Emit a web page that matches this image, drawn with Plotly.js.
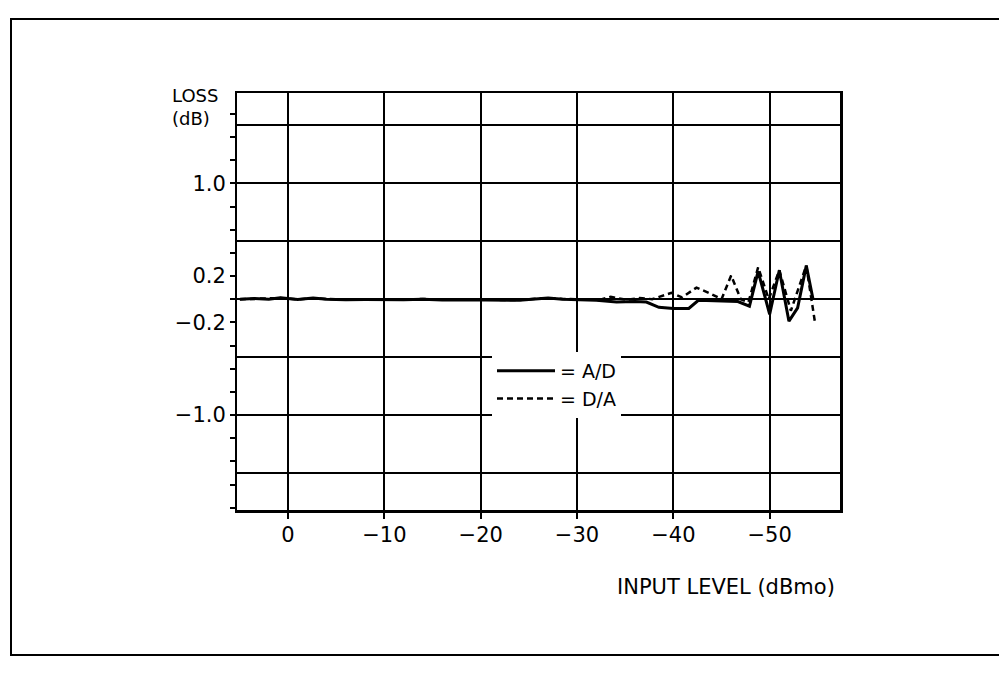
<!DOCTYPE html>
<html>
<head>
<meta charset="utf-8">
<script src="https://cdn.plot.ly/plotly-3.0.1.min.js"></script>
<style>
  html, body { margin: 0; padding: 0; background: #fff; }
  #wrap { position: relative; width: 999px; height: 673px; overflow: hidden; }
  #chart { position: absolute; left: 0; top: 0; width: 999px; height: 673px; }
  #frame { position: absolute; left: 10px; top: 18px; width: 1010px; height: 634px;
           border-left: 2px solid #000; border-top: 2px solid #000; border-bottom: 2px solid #000;
           pointer-events: none; }
</style>
</head>
<body>
<div id="wrap">
  <div id="chart"></div>
  <div id="frame"></div>
</div>
<script>
// ---- Data ----
// Input level in dBmo, loss in dB
const inputLevelAD = [5, 3.5, 2, 0.8, -1, -2.6, -4, -6, -8, -10, -12, -14, -16, -18, -20, -22, -24, -26, -27, -28.5, -30, -32, -34.1, -36, -37.2, -38.5, -40, -41.6, -42.6, -44.3, -46.7, -47.9, -48.8, -50.0, -51.0, -52.0, -52.9, -53.8, -54.5];
const lossAD = [0, 0.005, 0, 0.012, -0.003, 0.01, 0, -0.005, -0.003, -0.006, -0.004, 0, -0.006, -0.004, -0.008, -0.012, -0.01, 0.004, 0.01, 0, -0.004, -0.01, -0.025, -0.02, -0.025, -0.07, -0.08, -0.08, -0.01, -0.015, -0.02, -0.06, 0.24, -0.13, 0.25, -0.19, -0.075, 0.29, 0.0];

const inputLevelDA = [5, 3.5, 2, 0.8, -1, -2.6, -4, -6, -8, -10, -12, -14, -16, -18, -20, -22, -24, -26, -27, -28.5, -30, -32.4, -33.5, -35.1, -36.5, -37.8, -39.8, -40.9, -42.4, -43.8, -45.0, -46.0, -47.0, -47.8, -48.8, -49.9, -51.0, -52.2, -53.8, -54.7];
const lossDA = [0, 0.004, 0.002, 0.01, -0.002, 0.008, 0.002, -0.004, -0.002, -0.005, -0.003, 0.002, -0.005, -0.003, -0.006, -0.01, -0.008, 0.005, 0.01, 0.002, -0.002, -0.005, 0.02, -0.005, 0.01, 0, 0.055, 0.015, 0.1, 0.05, 0, 0.205, 0, -0.025, 0.275, 0, 0.25, -0.1, 0.29, -0.2];

// ---- Axis ticks ----
const xTickVals = [0, -10, -20, -30, -40, -50];
const xTickText = ['0', '\u221210', '\u221220', '\u221230', '\u221240', '\u221250'];
const yGridVals = [-1.5, -1.0, -0.5, 0, 0.5, 1.0, 1.5];
const yTickVals = [-1.8, -1.6, -1.4, -1.2, -1.0, -0.8, -0.6, -0.4, -0.2, 0, 0.2, 0.4, 0.6, 0.8, 1.0, 1.2, 1.4, 1.6];
const yTickText = ['', '', '', '', '\u22121.0', '', '', '', '\u22120.2', '', '0.2', '', '', '', '1.0', '', '', ''];

const FONT = 'DejaVu Sans, Liberation Sans, Arial, sans-serif';
const yRange = [-1.82, 1.78];
const xRange = [5.3, -57.3];

const traces = [
  { x: inputLevelAD, y: lossAD, type: 'scatter', mode: 'lines', name: '= A/D',
    line: { color: '#000', width: 3 }, xaxis: 'x', yaxis: 'y' },
  { x: inputLevelDA, y: lossDA, type: 'scatter', mode: 'lines', name: '= D/A',
    line: { color: '#000', width: 2.5, dash: '6px,4px' }, xaxis: 'x', yaxis: 'y2' }
];

const layout = {
  width: 999, height: 673,
  margin: { l: 237, r: 159, t: 93, b: 163 },
  paper_bgcolor: '#fff', plot_bgcolor: 'rgba(0,0,0,0)',
  font: { family: FONT, size: 21, color: '#000' },
  showlegend: true,
  legend: {
    x: (492 - 237) / 603, xanchor: 'left',
    y: (510 - 352) / 417, yanchor: 'top',
    bgcolor: '#fff', borderwidth: 0,
    font: { family: FONT, size: 19, color: '#000' },
    itemwidth: 58, tracegroupgap: 0
  },
  xaxis: {
    range: xRange, tickmode: 'array', tickvals: xTickVals, ticktext: xTickText,
    ticks: 'outside', ticklen: 6, tickwidth: 2, tickcolor: '#000',
    ticklabelstandoff: -2,
    showgrid: true, gridcolor: '#000', gridwidth: 2,
    showline: true, linecolor: '#000', linewidth: 2.5, mirror: true,
    zeroline: false, tickfont: { family: FONT, size: 21, color: '#000' }
  },
  yaxis: {
    range: yRange, tickmode: 'array', tickvals: yGridVals,
    showticklabels: false, ticks: '',
    showgrid: true, gridcolor: '#000', gridwidth: 2,
    showline: true, linecolor: '#000', linewidth: 2.5, mirror: true,
    zeroline: false
  },
  yaxis2: {
    range: yRange, overlaying: 'y', side: 'left', tickmode: 'array',
    tickvals: yTickVals, ticktext: yTickText,
    ticks: 'outside', ticklen: 6, tickwidth: 2, tickcolor: '#000',
    showgrid: false, zeroline: false, showline: false,
    tickfont: { family: FONT, size: 21, color: '#000' }
  },
  annotations: [
    { text: 'LOSS<br>(dB)', xref: 'paper', yref: 'paper',
      x: (170 - 237) / 603, xanchor: 'left', y: (510 - 83) / 417, yanchor: 'top',
      align: 'left', showarrow: false, font: { family: FONT, size: 18, color: '#000' } },
    { text: 'INPUT LEVEL (dBmo)', xref: 'paper', yref: 'paper',
      x: (837 - 237) / 603, xanchor: 'right', y: (510 - 587) / 417, yanchor: 'middle',
      showarrow: false, font: { family: FONT, size: 21, color: '#000' } }
  ]
};

Plotly.newPlot('chart', traces, layout, { displayModeBar: false, staticPlot: true });
</script>
</body>
</html>
